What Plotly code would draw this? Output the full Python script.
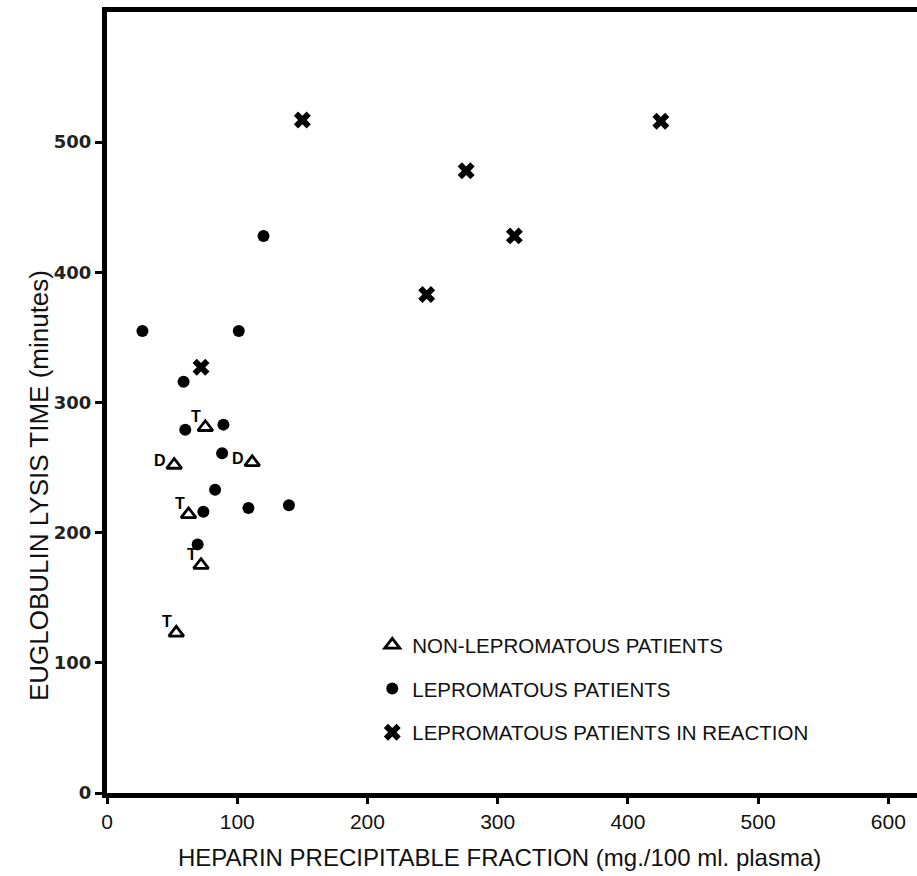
import plotly.graph_objects as go

# Non-lepromatous patients (open triangles) with their letter labels
nonlep_x = [75.5, 51.6, 111.5, 62.6, 72.2, 53.2]
nonlep_y = [281, 252, 254, 214, 175, 123]
nonlep_labels = ["T", "D", "D", "T", "T", "T"]

# Lepromatous patients (filled dots)
lep_x = [27.2, 101.2, 120.2, 58.8, 60.1, 89.4, 88.4, 83.0, 74.0, 108.6, 139.7, 69.6]
lep_y = [355, 355, 428, 316, 279, 283, 261, 233, 216, 219, 221, 191]

# Lepromatous patients in reaction (crosses)
react_x = [150, 425.3, 275.8, 312.8, 245.5, 72.2]
react_y = [517, 516, 478, 428, 383, 327]

x_ticks = [0, 100, 200, 300, 400, 500, 600]
y_ticks = [0, 100, 200, 300, 400, 500]

x_title = "HEPARIN PRECIPITABLE FRACTION (mg./100 ml. plasma)"
y_title = "EUGLOBULIN LYSIS TIME (minutes)"

fig = go.Figure()
fig.add_trace(go.Scatter(
    x=nonlep_x, y=nonlep_y, mode="markers", name="NON-LEPROMATOUS PATIENTS",
    legendgroup="a",
    marker=dict(symbol="triangle-up-open", size=13, color="black", line=dict(width=2.8, color="black")),
))
fig.add_trace(go.Scatter(
    x=lep_x, y=lep_y, mode="markers", name="LEPROMATOUS PATIENTS",
    legendgroup="b",
    marker=dict(symbol="circle", size=12, color="black"),
))
fig.add_trace(go.Scatter(
    x=react_x, y=react_y, mode="markers", name="LEPROMATOUS PATIENTS IN REACTION",
    legendgroup="c",
    marker=dict(symbol="x", size=15, color="black", line=dict(width=0)),
))

# letter labels next to triangles
offsets = {"T": (-9, 11), "D": (-14, 4)}
for x, y, lab in zip(nonlep_x, nonlep_y, nonlep_labels):
    dx, dy = offsets[lab]
    fig.add_annotation(x=x, y=y, text="<b>" + lab + "</b>", showarrow=False, xshift=dx, yshift=dy,
                       font=dict(family="Liberation Sans", size=16, color="black"))

# axis titles as annotations for exact placement
fig.add_annotation(xref="paper", yref="paper", x=0.484, y=-0.082, xanchor="center", yanchor="middle",
                   text=x_title, showarrow=False,
                   font=dict(family="Liberation Sans", size=24, color="#111"))
fig.add_annotation(xref="paper", yref="paper", x=-0.083, y=0.394, xanchor="center", yanchor="middle",
                   text=y_title, showarrow=False, textangle=-90,
                   font=dict(family="Liberation Sans", size=26, color="#111"))

fig.update_layout(
    width=917, height=876,
    margin=dict(l=107, r=0, t=12, b=83),
    paper_bgcolor="white", plot_bgcolor="white",
    showlegend=True,
    legend=dict(x=0.3275, y=0.215, xanchor="left", yanchor="top",
                bgcolor="rgba(0,0,0,0)", tracegroupgap=14,
                font=dict(family="Liberation Sans", size=20.5, color="#111"),
                itemwidth=30),
    xaxis=dict(
        range=[0, 622], tickvals=x_ticks, ticktext=[str(v) for v in x_ticks],
        automargin=False,
        showgrid=False, zeroline=False, showline=True, linecolor="black", linewidth=5,
        mirror=True, ticks="outside", ticklen=6, tickwidth=3, tickcolor="black",
        tickfont=dict(family="Liberation Sans", size=21, color="#111"),
    ),
    yaxis=dict(
        range=[0, 600], tickvals=y_ticks, ticktext=[str(v) for v in y_ticks],
        automargin=False,
        showgrid=False, zeroline=False, showline=True, linecolor="black", linewidth=5,
        ticks="outside", ticklen=7, tickwidth=3, tickcolor="black",
        tickfont=dict(family="DejaVu Sans", size=18, color="#222", weight="bold"),
    ),
)

fig.write_html("out.html", config={"displayModeBar": False},
               post_script="document.body.style.margin='0';document.body.style.overflow='hidden';")
